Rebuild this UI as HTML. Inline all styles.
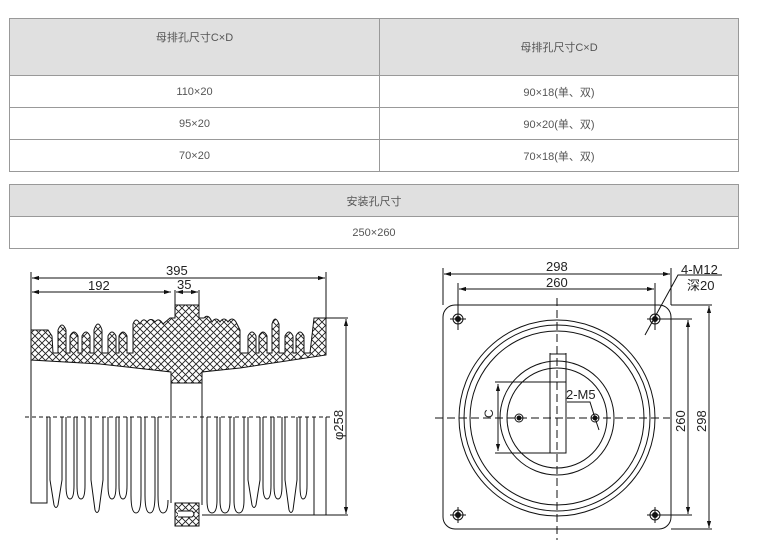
<!DOCTYPE html>
<html><head><meta charset="utf-8"><style>
body{margin:0;background:#fff;width:774px;height:543px;overflow:hidden;font-family:"Liberation Sans","Noto Sans CJK SC",sans-serif}
table{position:absolute;left:9px;border-collapse:collapse;font-size:11px;color:#555;width:730px}
td{border:1px solid #999;text-align:center;padding:0}
.h{background:#e0e0e0}
</style></head><body>
<table style="top:18px">
<tr class="h" style="height:57px"><td style="width:369px;vertical-align:top;padding-top:10px">母排孔尺寸C×D</td><td style="padding-top:0">母排孔尺寸C×D</td></tr>
<tr style="height:32px"><td>110×20</td><td>90×18(单、双)</td></tr>
<tr style="height:32px"><td>95×20</td><td>90×20(单、双)</td></tr>
<tr style="height:32px"><td>70×20</td><td>70×18(单、双)</td></tr>
</table>
<table style="top:184px">
<tr class="h" style="height:32px"><td>安装孔尺寸</td></tr>
<tr style="height:32px"><td>250×260</td></tr>
</table>
<svg width="774" height="543" style="position:absolute;left:0;top:0" font-family="Liberation Sans" font-size="13" fill="none" stroke="#111" stroke-width="1">
<defs>
<pattern id="x" width="7" height="7" patternUnits="userSpaceOnUse"><rect width="7" height="7" fill="#fff" stroke="none"/><path d="M0 0L7 7M7 0L0 7" stroke="#222" stroke-width="0.9"/></pattern>
<marker id="a" viewBox="0 0 10 10" refX="10" refY="5" markerWidth="7" markerHeight="7" orient="auto-start-reverse"><path d="M0 2L10 5L0 8z" fill="#111" stroke="none"/></marker>
</defs>
<line x1="31" y1="272" x2="31" y2="417"/><line x1="326" y1="272" x2="326" y2="318"/>
<line x1="32" y1="278" x2="325" y2="278" marker-start="url(#a)" marker-end="url(#a)"/>
<line x1="32" y1="292" x2="171" y2="292" marker-start="url(#a)" marker-end="url(#a)"/>
<line x1="175" y1="290" x2="175" y2="305"/><line x1="199" y1="290" x2="199" y2="305"/>
<line x1="176" y1="292" x2="198" y2="292" marker-start="url(#a)" marker-end="url(#a)"/>
<g fill="#222" stroke="none"><text x="166" y="275">395</text><text x="88" y="290">192</text><text x="177" y="289">35</text></g>
<line x1="326" y1="318" x2="348" y2="318"/><line x1="300" y1="515" x2="348" y2="515"/>
<line x1="346" y1="319" x2="346" y2="514" marker-start="url(#a)" marker-end="url(#a)"/>
<text transform="translate(343,440) rotate(-90)" fill="#222" stroke="none">φ258</text>
<path fill="url(#x)" d="M31 330 H48 L52 336 L53 353 H58 V330 Q62 320 66 330 V353 H70 V336 Q74 328 78 336 V353 H82 V336 Q86 328 90 336 V353 H94 V330 Q98 318 102 330 V353 H108 V336 Q112 328 116 336 V353 H119 V336 Q123 328 127 336 V353 H133 V324 Q136 316 140 324 Q143 317 147 322 Q151 317 155 322 Q159 317 163 324 L170 318 H175 V305 H199 V318 H204 Q208 313 212 322 Q216 316 220 322 Q224 316 228 322 Q232 316 236 322 L240 330 V353 H248 V336 Q252 328 256 336 V353 H259 V336 Q263 328 267 336 V353 H272 V324 Q275 314 279 324 V353 H285 V336 Q289 328 293 336 V353 H296 V336 Q300 328 304 336 V353 H310 L314 318 H326 V355 L240 368 L202 372 V383 H171 V372 L100 364 L31 360 Z"/>
<line x1="171" y1="383" x2="171" y2="417"/><line x1="202" y1="383" x2="202" y2="417"/>
<line x1="25" y1="417" x2="330" y2="417" stroke-dasharray="4,3"/>
<path d="M31 417 V503 H47 V417"/>
<path d="M171 417 V503 M202 417 V505 M314 417 L314 515 M326 417 V515"/>
<g>
<path d="M50 417 V480 L54 505 Q56 510 58 505 L62 480 V417"/>
<path d="M66 417 V485 Q66 499 70 499 Q74 499 74 485 V417"/>
<path d="M77 417 V485 Q77 499 81 499 Q85 499 85 485 V417"/>
<path d="M91 417 V480 L95 510 Q97 515 99 510 L103 480 V417"/>
<path d="M108 417 V485 Q108 499 112 499 Q116 499 116 485 V417"/>
<path d="M119 417 V485 Q119 499 123 499 Q127 499 127 485 V417"/>
<path d="M131 417 V495 Q131 513 136 513 Q141 513 141 495 V417"/>
<path d="M145 417 V495 Q145 513 150 513 Q155 513 155 495 V417"/>
<path d="M158 417 V495 Q158 513 163 513 Q168 513 168 500"/>
<path d="M207 417 V500 Q207 513 212 513 Q217 513 217 500 V417"/>
<path d="M220 417 V500 Q220 513 225 513 Q230 513 230 500 V417"/>
<path d="M234 417 V500 Q234 513 239 513 Q244 513 244 500 V417"/>
<path d="M248 417 V480 L252 505 Q254 510 256 505 L260 480 V417"/>
<path d="M263 417 V485 Q263 499 267 499 Q271 499 271 485 V417"/>
<path d="M274 417 V485 Q274 499 278 499 Q282 499 282 485 V417"/>
<path d="M285 417 V480 L289 510 Q291 515 293 510 L297 480 V417"/>
<path d="M300 417 V485 Q300 499 303 499 Q307 499 307 485 V417"/>
<path d="M202 515 H300"/>
</g>
<rect x="175" y="503" width="24" height="23" fill="url(#x)"/>
<path d="M178 511 H192 Q196 514 192 517 H178" fill="#fff"/>
<rect x="443" y="305" width="228" height="224" rx="12"/>
<line x1="443" y1="268" x2="443" y2="305"/><line x1="671" y1="268" x2="671" y2="305"/>
<line x1="458" y1="283" x2="458" y2="330"/><line x1="655" y1="283" x2="655" y2="330"/>
<line x1="444" y1="274" x2="670" y2="274" marker-start="url(#a)" marker-end="url(#a)"/>
<line x1="459" y1="289" x2="654" y2="289" marker-start="url(#a)" marker-end="url(#a)"/>
<g fill="#222" stroke="none"><text x="546" y="271">298</text><text x="546" y="287">260</text><text x="681" y="274">4-M12</text><text x="687" y="290">深20</text><text x="566" y="399">2-M5</text></g>
<line x1="671" y1="305" x2="712" y2="305"/><line x1="671" y1="529" x2="712" y2="529"/>
<line x1="660" y1="319" x2="692" y2="319"/><line x1="660" y1="515" x2="692" y2="515"/>
<line x1="688" y1="320" x2="688" y2="514" marker-start="url(#a)" marker-end="url(#a)"/>
<line x1="709" y1="306" x2="709" y2="528" marker-start="url(#a)" marker-end="url(#a)"/>
<text transform="translate(685,432) rotate(-90)" fill="#222" stroke="none">260</text>
<text transform="translate(706,432) rotate(-90)" fill="#222" stroke="none">298</text>
<path d="M645 335 L678 275 H722"/>
<circle cx="557" cy="418" r="98"/><circle cx="557" cy="418" r="93"/><circle cx="557" cy="418" r="87"/>
<circle cx="557" cy="418" r="57"/><circle cx="557" cy="418" r="50"/>
<line x1="557" y1="298" x2="557" y2="540" stroke-dasharray="8,4"/>
<line x1="435" y1="418" x2="670" y2="418" stroke-dasharray="8,4"/>
<g>
<circle cx="458" cy="319" r="5"/><circle cx="458" cy="319" r="2.5" fill="#111"/>
<circle cx="655" cy="319" r="5"/><circle cx="655" cy="319" r="2.5" fill="#111"/>
<circle cx="458" cy="515" r="5"/><circle cx="458" cy="515" r="2.5" fill="#111"/>
<circle cx="655" cy="515" r="5"/><circle cx="655" cy="515" r="2.5" fill="#111"/>
<path d="M450 319H466M458 311V327M647 319H663M655 311V327M450 515H466M458 507V523M647 515H663M655 507V523"/>
<circle cx="519" cy="418" r="4"/><circle cx="519" cy="418" r="2" fill="#111"/>
<circle cx="595" cy="418" r="4"/><circle cx="595" cy="418" r="2" fill="#111"/>
</g>
<path d="M495 382 H566 V453 H495"/>
<path d="M550 353 V453 M566 353 V382 M550 354 H566"/>
<line x1="498" y1="384" x2="498" y2="451" marker-start="url(#a)" marker-end="url(#a)"/>
<text transform="translate(493,418) rotate(-90)" fill="#222" stroke="none" font-size="12">C</text>
<path d="M567 402 H590 L595 418 L599 430"/>
</svg>
</body></html>
